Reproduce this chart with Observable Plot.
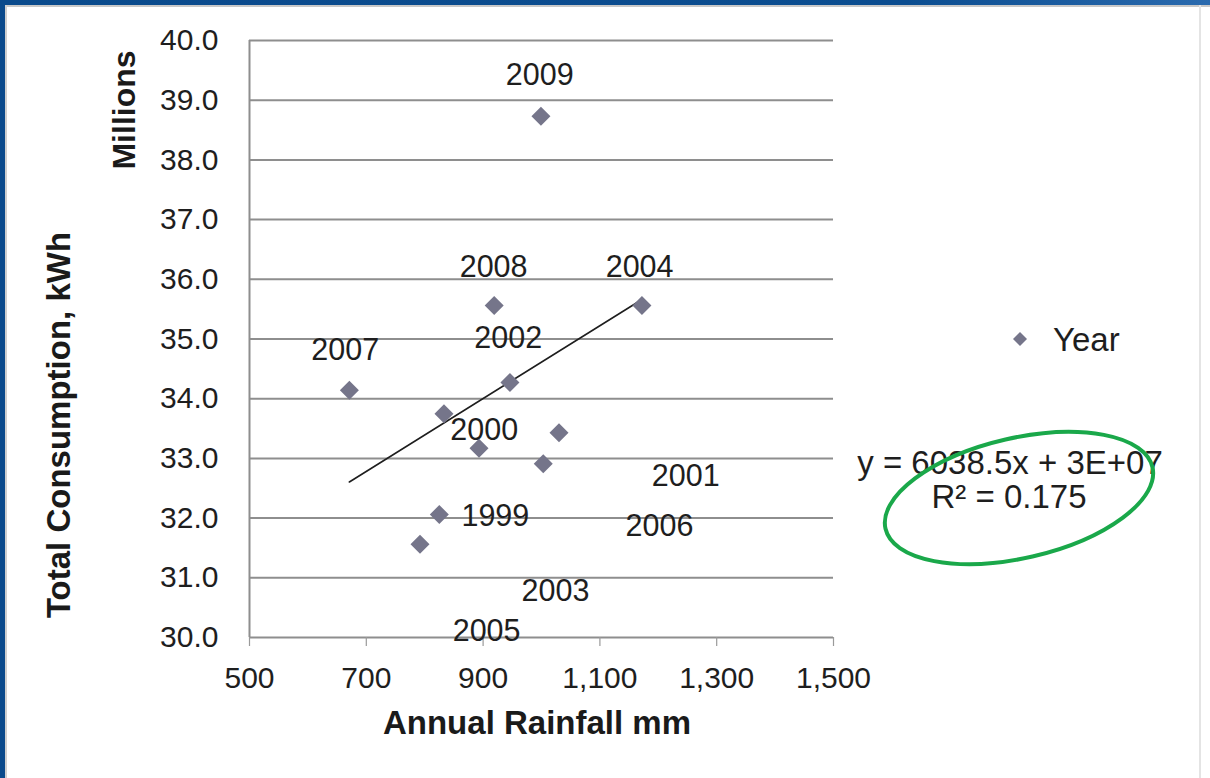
<!DOCTYPE html>
<html>
<head>
<meta charset="utf-8">
<script src="https://cdn.jsdelivr.net/npm/d3@7"></script>
<script src="https://cdn.jsdelivr.net/npm/@observablehq/plot@0.6"></script>
<style>
  html, body { margin: 0; padding: 0; background: #fff; }
  #wrap { position: relative; width: 1210px; height: 778px; overflow: hidden; background: #fff;
          font-family: "Liberation Sans", Arial, sans-serif; color: #1e1e1e; }
  #topbar { position: absolute; left: 0; top: 0; width: 1210px; height: 5px;
            background: linear-gradient(to right, #0a4a8c 0%, #0b4d90 75%, #2a6aae 100%); }
  #topshade { position: absolute; left: 0; top: 5px; width: 1210px; height: 2px; background: #c8c8c8; }
  #leftbar { position: absolute; left: 0; top: 0; width: 5px; height: 778px; background: #0a4a8c; }
  #leftshade { position: absolute; left: 5px; top: 5px; width: 2px; height: 773px; background: #cfcfcf; }
  #rightshade { position: absolute; left: 1199px; top: 5px; width: 2px; height: 773px; background: #e4e4e4; }
  .ov { position: absolute; white-space: nowrap; line-height: 1; }
  .title { font-weight: bold; font-size: 33px; color: #1a1a1a; }
  .reg { font-size: 33px; color: #1e1e1e; }
</style>
</head>
<body>
<div id="wrap">
  <div id="chart"></div>
  <div id="topbar"></div><div id="topshade"></div>
  <div id="leftbar"></div><div id="leftshade"></div>
  <div id="rightshade"></div>
</div>
<script>
// ---- data ----
const years       = ["2009", "2008", "2004", "2007", "2002", "2000", "2001", "1999", "2006", "2003", "2005"];
const rainfall    = [999, 919, 1172, 671, 946, 833, 1030, 825, 1003, 893, 792];          // mm
const consumption = [38.73, 35.56, 35.56, 34.14, 34.27, 33.75, 33.43, 32.06, 32.91, 33.17, 31.56]; // millions kWh
// data-label anchor positions (in data units) as placed in the reference
const labelRain   = [997, 918, 1168, 664, 943, 902, 1247, 921, 1202, 1024, 906];
const labelCons   = [39.41, 36.21, 36.21, 34.81, 35.01, 33.47, 32.70, 32.03, 31.86, 30.77, 30.10];

const xTicks = [500, 700, 900, 1100, 1300, 1500];
const yTicks = [30, 31, 32, 33, 34, 35, 36, 37, 38, 39, 40];

const xTitle = "Annual Rainfall mm";
const yTitle = "Total Consumption, kWh";
const yUnit = "Millions";
const legendLabel = "Year";
const equation = "y = 6038.5x + 3E+07";
const rSquared = "R² = 0.175";

const data = years.map((year, i) => ({
  year, rain: rainfall[i], cons: consumption[i], lx: labelRain[i], ly: labelCons[i]
}));

const diamond = {
  draw(context, size) {
    const h = Math.sqrt(size / Math.PI);
    context.moveTo(0, -h);
    context.lineTo(h, 0);
    context.lineTo(0, h);
    context.lineTo(-h, 0);
    context.closePath();
  }
};

const chart = Plot.plot({
  width: 1210,
  height: 778,
  marginLeft: 249,
  marginRight: 377,
  marginTop: 40,
  marginBottom: 141,
  style: { fontFamily: "Liberation Sans, Arial, sans-serif", color: "#1e1e1e", background: "transparent" },
  x: { domain: [500, 1500], ticks: xTicks },
  y: { domain: [30, 40], ticks: yTicks },
  marks: [
    Plot.gridY(yTicks, { stroke: "#8e8e8e", strokeOpacity: 1, strokeWidth: 2 }),
    Plot.ruleX([500], { stroke: "#8e8e8e", strokeWidth: 2 }),
    Plot.axisX({ ticks: xTicks, tickFormat: d3.format(","), tickSize: 9, tickPadding: 20,
                 fontSize: 30, label: null, stroke: "#9a9a9a", strokeWidth: 1.2 }),
    Plot.axisY({ ticks: yTicks, tickFormat: d3.format(".1f"), tickSize: 0, tickPadding: 31,
                 fontSize: 30, label: null }),
    Plot.linearRegressionY(data, { x: "rain", y: "cons", ci: 0, stroke: "#1e1e1e", strokeWidth: 1.6 }),
    Plot.dot(data, { x: "rain", y: "cons", symbol: diamond, r: 9.5, fill: "#75758a", stroke: "none" }),
    Plot.text(data, { x: "lx", y: "ly", text: "year", fontSize: 30.5, fill: "#1e1e1e" })
  ]
});
document.getElementById("chart").appendChild(chart);

const wrap = document.getElementById("wrap");
function addDiv(text, cls, cx, cy, rotate) {
  const d = document.createElement("div");
  d.className = "ov " + cls;
  d.textContent = text;
  d.style.left = cx + "px";
  d.style.top = cy + "px";
  d.style.transform = "translate(-50%, -50%)" + (rotate ? ` rotate(${rotate}deg)` : "");
  wrap.appendChild(d);
  return d;
}
addDiv(xTitle, "title", 537, 722);
addDiv(yTitle, "title", 58, 425, -90);
addDiv(yUnit, "title", 124, 110, -90).style.fontSize = "32px";

// legend
const leg = document.createElement("div");
leg.className = "ov reg";
leg.style.left = "1011px";
leg.style.top = "320px";
leg.innerHTML = `<svg width="18" height="18" style="vertical-align:middle;margin-right:24px"><path d="M9 2 L16 9 L9 16 L2 9 Z" fill="#75758a"/></svg><span style="vertical-align:middle">${legendLabel}</span>`;
wrap.appendChild(leg);

// trendline equation
addDiv(equation, "reg", 1010, 462);
addDiv(rSquared, "reg", 1009, 496);

// green highlight ellipse
const ns = "http://www.w3.org/2000/svg";
const ov = document.createElementNS(ns, "svg");
ov.setAttribute("width", 1210); ov.setAttribute("height", 778);
ov.style.position = "absolute"; ov.style.left = "0"; ov.style.top = "0";
const el = document.createElementNS(ns, "ellipse");
el.setAttribute("cx", 1019); el.setAttribute("cy", 498);
el.setAttribute("rx", 137); el.setAttribute("ry", 60);
el.setAttribute("transform", "rotate(-13 1019 498)");
el.setAttribute("fill", "none"); el.setAttribute("stroke", "#1aa84a"); el.setAttribute("stroke-width", 4);
ov.appendChild(el);
wrap.appendChild(ov);
</script>
</body>
</html>
